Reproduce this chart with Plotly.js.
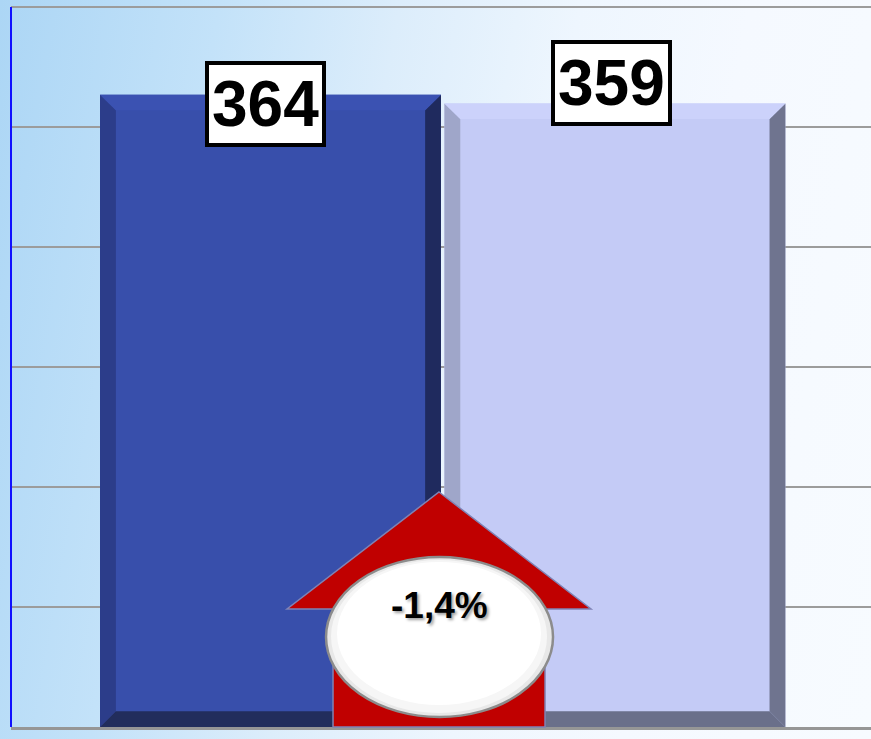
<!DOCTYPE html>
<html>
<head>
<meta charset="utf-8">
<script src="https://cdn.plot.ly/plotly-3.0.1.min.js"></script>
<style>
html,body{margin:0;padding:0;}
body{width:871px;height:739px;overflow:hidden;
background:linear-gradient(100deg,#acd6f5 0%,#c3e2f9 22%,#dcedfb 40%,#eef6fe 58%,#f5f9ff 75%,#f7fbff 100%);}
#chart{width:871px;height:739px;}
</style>
</head>
<body>
<div id="chart"></div>
<script>
// ---- data ----
const seriesNames = ["Anno precedente", "Anno corrente"];
const values = [364, 359];
const changeLabel = "-1,4%";

// ---- styles ----
const mainColors = ["#384fab", "#c4cbf6"];
const leftBevel  = ["#2c3d8a", "#9fa6c9"];
const rightBevel = ["#1f2a5e", "#6f748f"];
const bottomBevel= ["#222d5c", "#6a6f8a"];
const topBevel   = ["#3b52b2", "#ccd2fb"];
const positions = [0, 1];
const barWidth = 0.99;
const BX = 0.046;   // bevel size in x data units
const BY = 9.0;     // bevel size in y data units
const yMax = 414.5;
const plotH = 722;  // plot height in px (top gridline sits 2px below plot top)

const traces = values.map((v, i) => ({
  type: "bar",
  x: [positions[i]],
  y: [v],
  width: [barWidth],
  name: seriesNames[i],
  marker: {color: mainColors[i], line: {width: 0}},
  hoverinfo: "skip"
}));

const shapes = [];
values.forEach((v, i) => {
  const c = positions[i], w = barWidth / 2;
  const L = c - w, R = c + w;
  const base = {type: "path", xref: "x", yref: "y", line: {width: 0}, layer: "above"};
  shapes.push(Object.assign({}, base, {fillcolor: leftBevel[i],
    path: `M ${L},0 L ${L+BX},${BY} L ${L+BX},${v-BY} L ${L},${v} Z`}));
  shapes.push(Object.assign({}, base, {fillcolor: rightBevel[i],
    path: `M ${R},0 L ${R-BX},${BY} L ${R-BX},${v-BY} L ${R},${v} Z`}));
  shapes.push(Object.assign({}, base, {fillcolor: bottomBevel[i],
    path: `M ${L},0 L ${R},0 L ${R-BX},${BY} L ${L+BX},${BY} Z`}));
  shapes.push(Object.assign({}, base, {fillcolor: topBevel[i],
    path: `M ${L},${v} L ${R},${v} L ${R-BX},${v-BY} L ${L+BX},${v-BY} Z`}));
});

// arrow (decoration) centred between bars, pixel sized from the bottom of the plot
const arrowX = 0.4977;
shapes.push({
  type: "path", xref: "paper", yref: "paper", xsizemode: "pixel", ysizemode: "pixel",
  xanchor: arrowX, yanchor: 0,
  path: "M 0,235 L 152,118 L 106,118 L 106,0 L -106,0 L -106,118 L -152,118 Z",
  fillcolor: "#c00000", line: {color: "#7f83b5", width: 1.5}, layer: "above"
});
shapes.push({
  type: "circle", xref: "paper", yref: "paper", xsizemode: "pixel", ysizemode: "pixel",
  xanchor: arrowX, yanchor: 0, x0: -113, x1: 114, y0: 10, y1: 170,
  fillcolor: "#e8e8e8", line: {color: "#8c8c8c", width: 2.5}, layer: "above"
});
shapes.push({
  type: "circle", xref: "paper", yref: "paper", xsizemode: "pixel", ysizemode: "pixel",
  xanchor: arrowX, yanchor: 0, x0: -108, x1: 108, y0: 14, y1: 167,
  fillcolor: "#f6f6f6", line: {width: 0}, layer: "above"
});
shapes.push({
  type: "circle", xref: "paper", yref: "paper", xsizemode: "pixel", ysizemode: "pixel",
  xanchor: arrowX, yanchor: 0, x0: -102, x1: 102, y0: 22, y1: 165,
  fillcolor: "#ffffff", line: {width: 0}, layer: "above"
});

const annotations = values.map((v, i) => ({
  x: positions[i], y: v, xref: "x", yref: "y",
  text: String(v), showarrow: false,
  xshift: i === 0 ? -5 : -3, yshift: i === 0 ? -9 : 20,
  yanchor: "middle",
  font: {family: "Liberation Sans, Arial, sans-serif", size: 64, color: "#000", weight: 700},
  bgcolor: "#ffffff", bordercolor: "#000000", borderwidth: 4, borderpad: 3
}));
annotations.push({
  x: arrowX, y: 122 / plotH, xref: "paper", yref: "paper",
  text: changeLabel, showarrow: false, yanchor: "middle",
  font: {family: "Liberation Sans, Arial, sans-serif", size: 37, color: "#000", weight: 700,
         shadow: "2px 2px 3px #a0a0a0"}
});

const layout = {
  width: 871, height: 739,
  margin: {l: 11, r: 0, t: 5, b: 12, pad: 0},
  paper_bgcolor: "rgba(0,0,0,0)",
  plot_bgcolor: "rgba(0,0,0,0)",
  showlegend: false,
  barmode: "overlay",
  xaxis: {range: [-0.7535, 1.7436], showgrid: false, zeroline: false, showticklabels: false,
          ticks: "", showline: true, linecolor: "#969696", linewidth: 3, fixedrange: true},
  yaxis: {range: [0, yMax * plotH / 720], tick0: 0, dtick: yMax / 6, showgrid: true, gridcolor: "#9c9c9c",
          gridwidth: 2, zeroline: false, showticklabels: false, ticks: "",
          showline: false, fixedrange: true},
  shapes: [{type: "line", xref: "paper", yref: "y", x0: 0, x1: 0, y0: 0, y1: yMax,
            line: {color: "#1010ff", width: 2}}].concat(shapes),
  annotations: annotations
};

Plotly.newPlot("chart", traces, layout, {displayModeBar: false, staticPlot: true});
</script>
</body>
</html>
